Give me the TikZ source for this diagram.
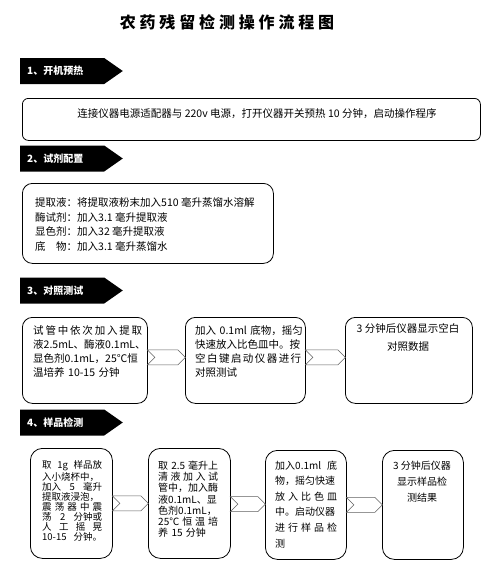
\documentclass[tikz,border=0pt]{standalone}
\usepackage{fontspec}
\setmainfont{Noto Sans CJK SC}
\usetikzlibrary{shapes.symbols,calc}

\begin{document}
\begin{tikzpicture}[
        x=1pt, y=-1pt,
        font=\fontsize{10.5}{14}\selectfont,
        stage/.style={
            signal,
            signal to=east,
            signal pointer angle=70,
            fill=black,
            text=white,
            font=\fontsize{10}{12}\selectfont\bfseries,
            minimum height=26pt,
            text width=70pt,
            inner xsep=7pt,
            align=left,
            anchor=west
        },
        panel/.style={
            draw,
            line width=0.8pt,
            rounded corners=10pt,
            anchor=north west,
            inner sep=0pt
        },
        notes/.style={anchor=north west, inner sep=0pt, align=left},
        link/.style={
            signal,
            signal to=east,
            signal from=west,
            draw=gray!75!black,
            fill=white,
            line width=0.6pt,
            minimum height=15pt,
            inner sep=0pt
        }
    ]
        \useasboundingbox (0,0) rectangle (493,565);

        \node (title) at (227,22)
            {\fontsize{16}{18}\selectfont\bfseries\addfontfeature{LetterSpace=24}农药残留检测操作流程图};

        % 1. warm up
        \node[stage] (warm) at (20,71) {1、开机预热};
        \node[panel, rounded corners=6pt, minimum width=458pt,
            minimum height=42pt] (prep) at (22,98) {};
        \node (prep-t) at (257,114)
            {连接仪器电源适配器与 220v 电源，打开仪器开关预热 10 分钟，启动操作程序};

        % 2. reagents
        \node[stage] (mix) at (20,158.5) {2、试剂配置};
        \node[panel, minimum width=251pt, minimum height=80pt] (reag) at (22,183) {};
        \node[notes, font=\fontsize{10.5}{14.7}\selectfont] (reag-t) at (35,197.3) {
            提取液：将提取液粉末加入510 毫升蒸馏水溶解\\
            酶试剂：加入3.1 毫升提取液\\
            显色剂：加入32 毫升提取液\\
            底　物：加入3.1 毫升蒸馏水};

        % 3. blank test
        \node[stage] (ctrl) at (20,290.5) {3、对照测试};
        \node[panel, minimum width=125pt, minimum height=86pt] (blank1) at (22,317) {};
        \node[panel, minimum width=120pt, minimum height=86pt] (blank2) at (185,317) {};
        \node[panel, minimum width=127pt, minimum height=86pt] (blank3) at (345,317) {};

        \node[notes, text width=109pt] (blank1-t) at (33,325.3) {
            试\hfill 管\hfill 中\hfill 依\hfill 次\hfill 加\hfill 入\hfill 提\hfill 取\\
            液2.5mL、酶液0.1mL、\\
            显色剂0.1mL，25℃恒\\
            温培养~10-15~分钟};
        \node[notes, text width=106pt] (blank2-t) at (195,325.3) {
            加入~0.1ml~底物，摇匀\\
            快速放入比色皿中。按\\
            空\hfill 白\hfill 键\hfill 启\hfill 动\hfill 仪\hfill 器\hfill 进\hfill 行\\
            对照测试};
        \node[anchor=north, inner sep=0pt, align=center,
            font=\fontsize{10.5}{18}\selectfont] (blank3-t) at (408,323.3)
            {3 分钟后仪器显示空白\\对照数据};

        \node[link, minimum width=38pt] (bl12)
            at ($(blank1.east)!0.5!(blank2.west)+(0,-3)$) {};
        \node[link, minimum width=40pt] (bl23)
            at ($(blank2.east)!0.5!(blank3.west)+(0,-3)$) {};

        % 4. sample test
        \node[stage] (test) at (20,422.5) {4、样品检测};
        \node[panel, rounded corners=12pt, minimum width=82pt,
            minimum height=110pt] (samp1) at (30,448) {};
        \node[panel, rounded corners=12pt, minimum width=82pt,
            minimum height=110pt] (samp2) at (148,448) {};
        \node[panel, rounded corners=12pt, minimum width=81pt,
            minimum height=109pt] (samp3) at (265,450) {};
        \node[panel, rounded corners=12pt, minimum width=81pt,
            minimum height=109pt] (samp4) at (382,450) {};

        \node[notes, text width=60pt, font=\fontsize{9.5}{10}\selectfont]
            (samp1-t) at (42,460.5) {
            取\hfill 1g\hfill 样品放\\
            入小烧杯中，\\
            加入\hfill 5\hfill 毫升\\
            提取液浸泡，\\
            震\hfill 荡\hfill 器\hfill 中\hfill 震\\
            荡\hfill 2\hfill 分钟或\\
            人\hfill 工\hfill 摇\hfill 晃\\
            10-15\hfill 分钟。};
        \node[notes, text width=60pt, font=\fontsize{10}{11.3}\selectfont]
            (samp2-t) at (158,460.5) {
            取\hfill 2.5\hfill 毫升上\\
            清\hfill 液\hfill 加\hfill 入\hfill 试\\
            管中，加入酶\\
            液0.1mL、显\\
            色剂0.1mL，\\
            25℃\hfill 恒\hfill 温\hfill 培\\
            养~15~分钟};
        \node[notes, text width=62pt, font=\fontsize{10}{15.6}\selectfont]
            (samp3-t) at (275,460.5) {
            加入0.1ml\hfill 底\\
            物，摇匀快速\\
            放\hfill 入\hfill 比\hfill 色\hfill 皿\\
            中。启动仪器\\
            进\hfill 行\hfill 样\hfill 品\hfill 检\\
            测};
        \node[anchor=north, inner sep=0pt, align=center,
            font=\fontsize{10}{16}\selectfont] (samp4-t) at (422,460.5)
            {3 分钟后仪器\\显示样品检\\测结果};

        \node[link, minimum width=36pt] (sp12)
            at ($(samp1.east)!0.5!(samp2.west)$) {};
        \node[link, minimum width=35pt] (sp23)
            at ($(samp2.east)!0.5!(samp3.west)$) {};
        \node[link, minimum width=36pt] (sp34)
            at ($(samp3.east)!0.5!(samp4.west)$) {};
    \end{tikzpicture}
\end{document}
